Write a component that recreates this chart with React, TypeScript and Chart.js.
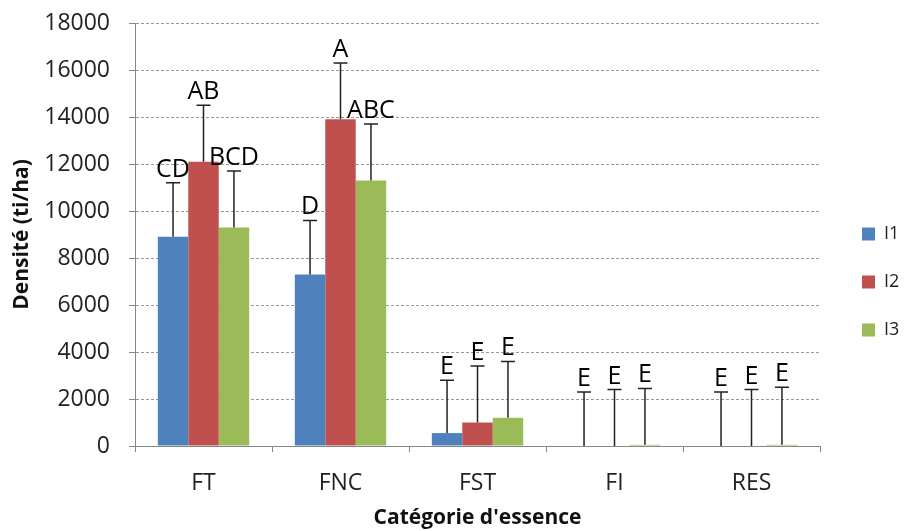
import React, { useEffect, useRef } from "react";
import { Chart, registerables } from "chart.js";

Chart.register(...registerables);

const categories = ["FT", "FNC", "FST", "FI", "RES"];
const seriesNames = ["I1", "I2", "I3"];
const seriesColors = ["#4F81BD", "#C0504D", "#9BBB59"];

const i1Values = [8900, 7300, 550, 0, 0];
const i2Values = [12100, 13900, 1000, 0, 0];
const i3Values = [9300, 11300, 1200, 50, 50];

const i1Errors = [2300, 2300, 2250, 2300, 2300];
const i2Errors = [2400, 2400, 2400, 2400, 2400];
const i3Errors = [2400, 2400, 2400, 2400, 2450];

const i1Letters = ["CD", "D", "E", "E", "E"];
const i2Letters = ["AB", "A", "E", "E", "E"];
const i3Letters = ["BCD", "ABC", "E", "E", "E"];

const yTicks = [0, 2000, 4000, 6000, 8000, 10000, 12000, 14000, 16000, 18000];

const FONT = '"Open Sans", "DejaVu Sans", sans-serif';

const errors = [i1Errors, i2Errors, i3Errors];
const letters = [i1Letters, i2Letters, i3Letters];

const errorPlugin = {
  id: "errbars",
  afterDatasetsDraw(chart: any) {
    const ctx = chart.ctx;
    const y = chart.scales.y;
    chart.data.datasets.forEach((ds: any, di: number) => {
      const meta = chart.getDatasetMeta(di);
      meta.data.forEach((bar: any, j: number) => {
        const v = ds.data[j];
        const top = y.getPixelForValue(v + errors[di][j]);
        const base = y.getPixelForValue(v);
        ctx.save();
        ctx.strokeStyle = "#222";
        ctx.lineWidth = 1.5;
        ctx.beginPath();
        ctx.moveTo(bar.x, base);
        ctx.lineTo(bar.x, top);
        ctx.moveTo(bar.x - 7, top);
        ctx.lineTo(bar.x + 7, top);
        ctx.stroke();
        ctx.fillStyle = "#000";
        ctx.font = `25px ${FONT}`;
        ctx.textAlign = "center";
        ctx.textBaseline = "alphabetic";
        ctx.fillText(letters[di][j], bar.x, top - 6);
        ctx.restore();
      });
    });
  },
};

const legendPlugin = {
  id: "sideLegend",
  afterDraw(chart: any) {
    const ctx = chart.ctx;
    const area = chart.chartArea;
    const x0 = area.right + 42;
    const firstY = area.top + 211;
    const step = 48;
    ctx.save();
    seriesNames.forEach((name, i) => {
      const cy = firstY + i * step;
      ctx.fillStyle = seriesColors[i];
      ctx.fillRect(x0, cy - 6.5, 13, 13);
      ctx.fillStyle = "#222";
      ctx.font = `18px ${FONT}`;
      ctx.textAlign = "left";
      ctx.textBaseline = "middle";
      ctx.fillText(name, x0 + 22, cy);
    });
    ctx.restore();
  },
};

export default function App() {
  const ref = useRef<HTMLCanvasElement>(null);
  useEffect(() => {
    if (!ref.current) return;
    const chart = new Chart(ref.current, {
      type: "bar",
      data: {
        labels: categories,
        datasets: [
          { label: seriesNames[0], data: i1Values, backgroundColor: seriesColors[0] },
          { label: seriesNames[1], data: i2Values, backgroundColor: seriesColors[1] },
          { label: seriesNames[2], data: i3Values, backgroundColor: seriesColors[2] },
        ],
      },
      options: {
        animation: false,
        responsive: false,
        maintainAspectRatio: false,
        layout: { padding: { top: 23, right: 86, bottom: 0, left: 0 } },
        datasets: { bar: { categoryPercentage: 0.667, barPercentage: 1 } },
        plugins: {
          legend: { display: false },
          tooltip: { enabled: false },
        },
        scales: {
          x: {
            grid: {
              offset: true,
              drawOnChartArea: false,
              tickLength: 6,
              tickColor: "#888",
            },
            border: { color: "#888", width: 1 },
            ticks: {
              color: "#222",
              font: { family: FONT, size: 23 },
              padding: 18,
            },
            title: {
              display: true,
              text: "Catégorie d'essence",
              color: "#111",
              font: { family: FONT, size: 21, weight: "bold" },
              padding: { top: 0, bottom: 0 },
            },
            afterFit(scale: any) {
              scale.height = 85;
              scale.paddingLeft = 0;
              scale.paddingRight = 0;
            },
          },
          y: {
            min: 0,
            max: 18000,
            afterBuildTicks(scale: any) {
              scale.ticks = yTicks.map((v) => ({ value: v }));
            },
            grid: {
              color: "#999",
              lineWidth: 1,
              tickLength: 6,
              tickColor: "#888",
              tickBorderDash: [],
            },
            border: { color: "#888", width: 1, dash: [3, 2] },
            ticks: {
              color: "#222",
              font: { family: FONT, size: 23 },
              padding: 19,
              callback: (v: any) => String(v),
            },
            title: {
              display: true,
              text: "Densité (ti/ha)",
              color: "#111",
              font: { family: FONT, size: 21, weight: "bold" },
              padding: { top: 9, bottom: 0 },
            },
            afterFit(scale: any) {
              scale.width = 135;
              scale.paddingTop = 0;
              scale.paddingBottom = 0;
            },
          },
        },
      },
      plugins: [errorPlugin, legendPlugin],
    } as any);
    return () => chart.destroy();
  }, []);
  return (
    <div style={{ position: "fixed", left: 0, top: 0, width: 906, height: 531, background: "#fff" }}>
      <canvas ref={ref} width={906} height={531} style={{ width: 906, height: 531 }} />
    </div>
  );
}
